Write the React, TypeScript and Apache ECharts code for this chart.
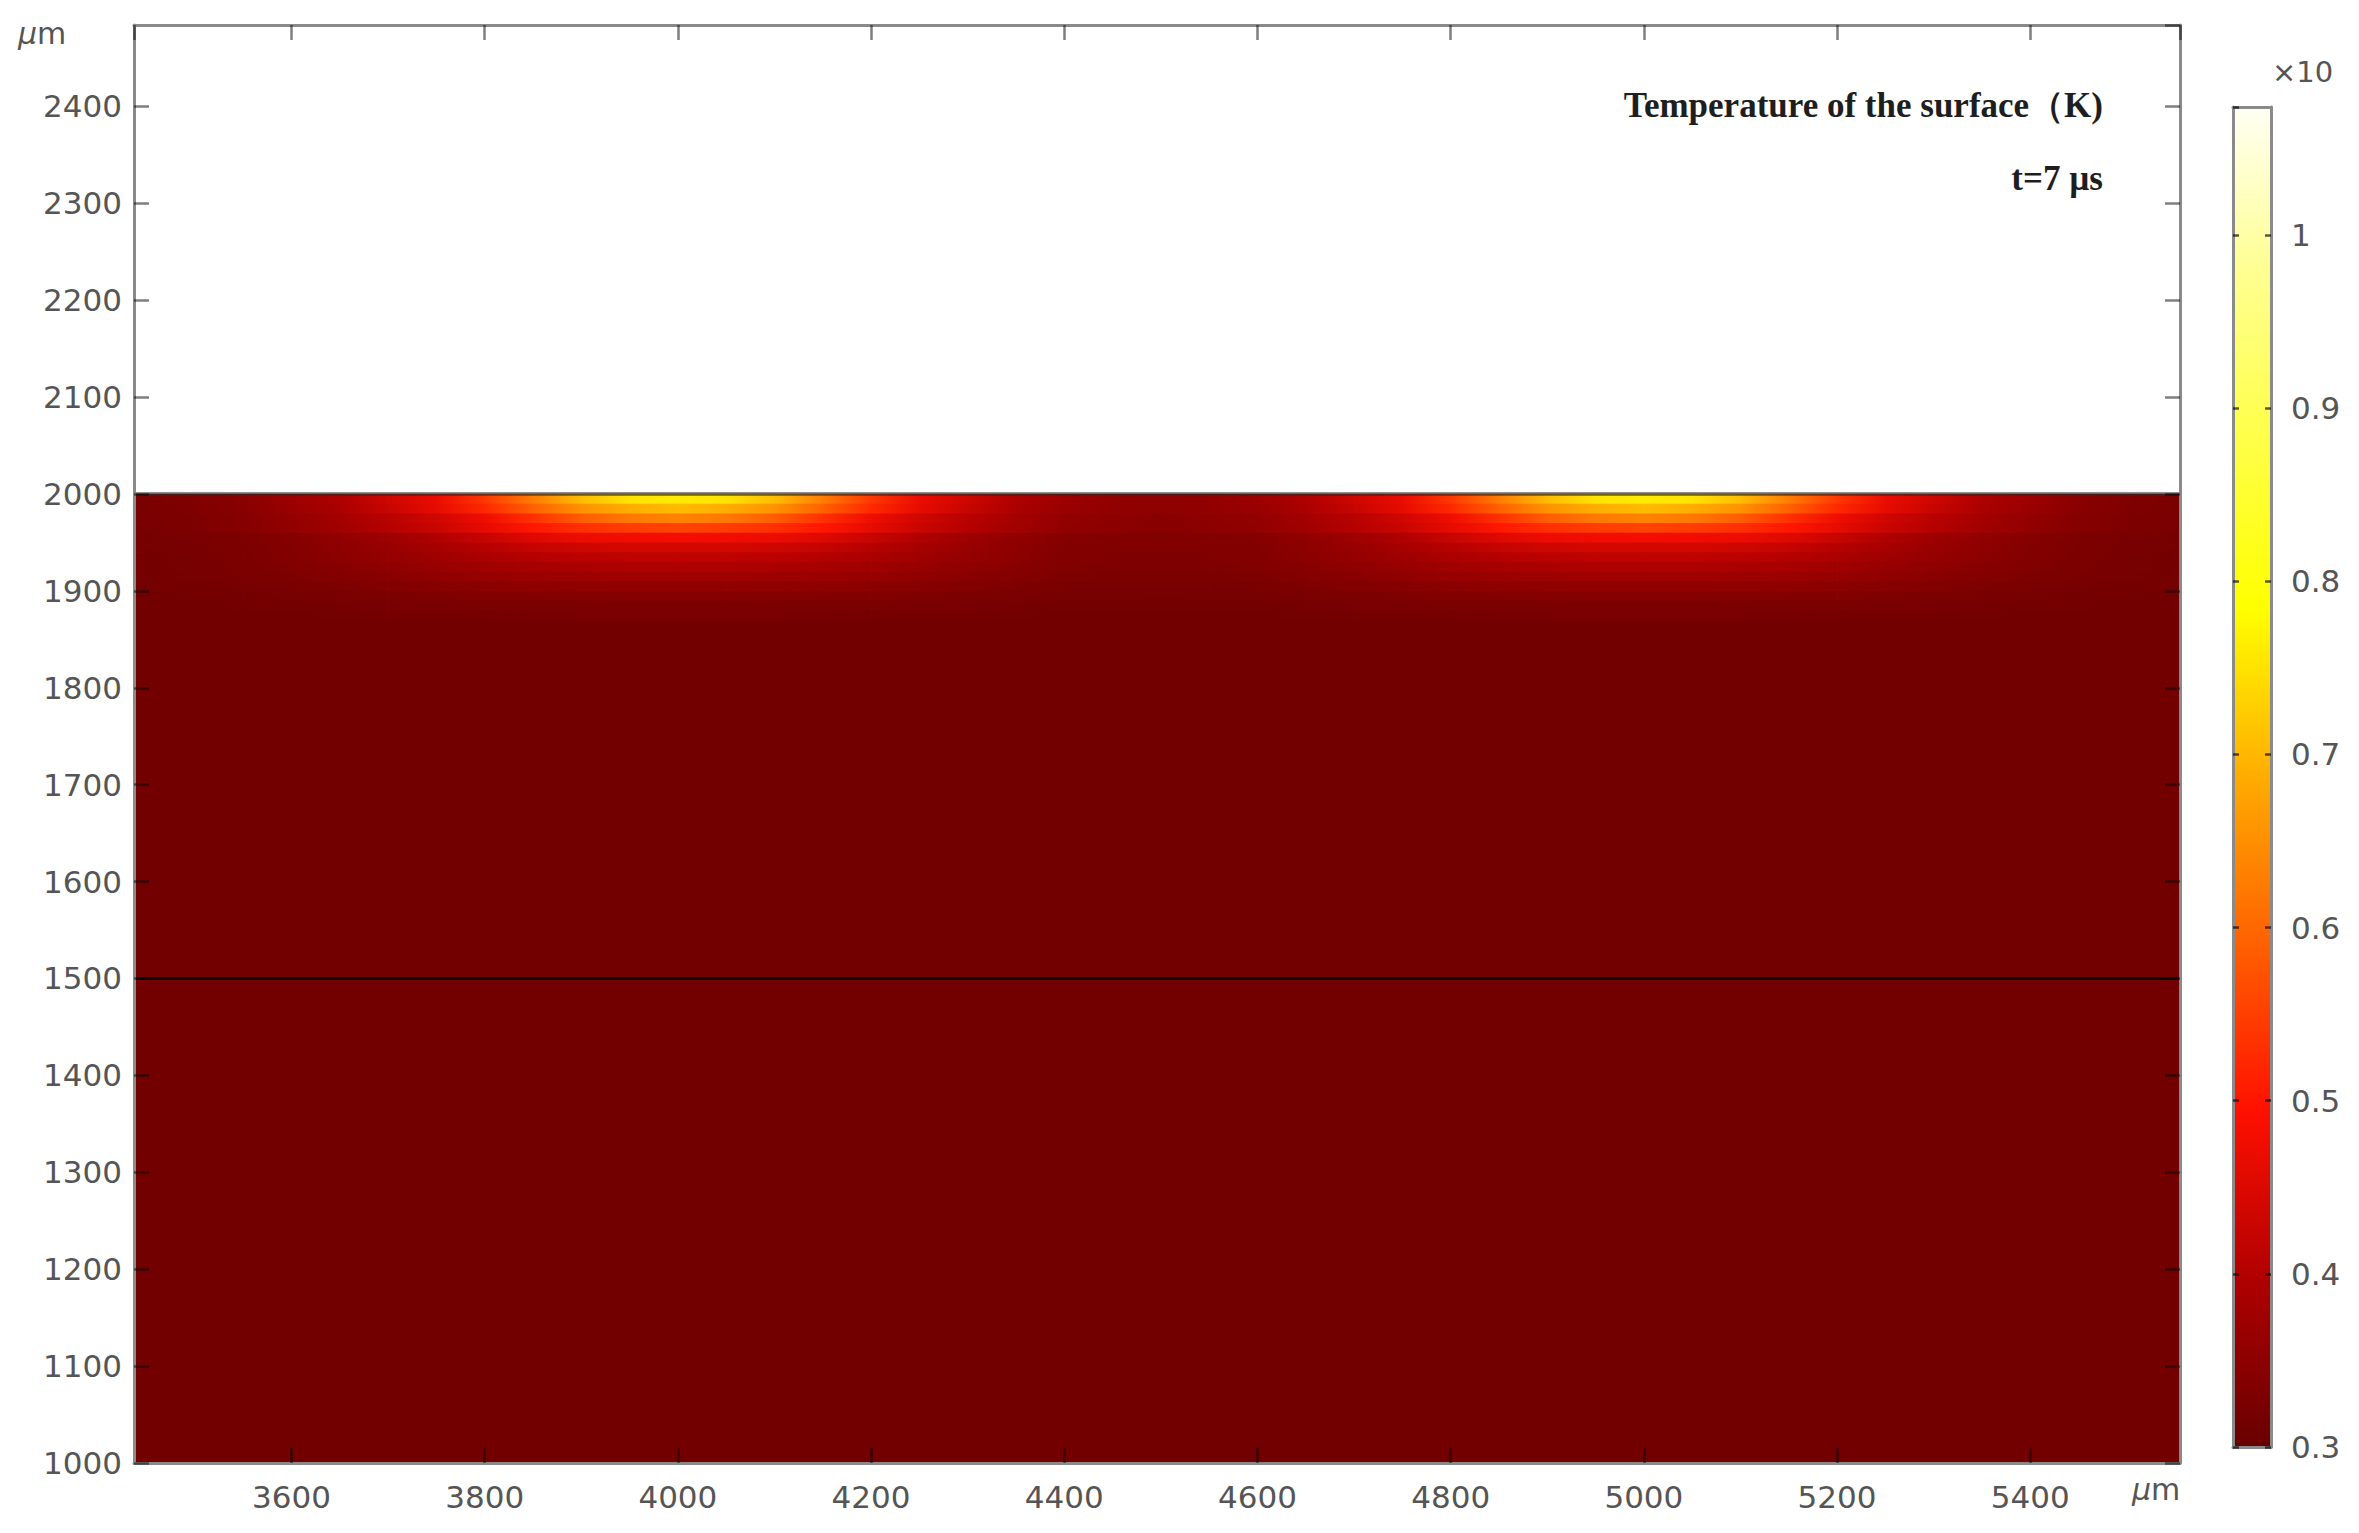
import React, { useEffect, useRef } from "react";
import * as echarts from "echarts";

// ---- axis extents (µm) ----
const X_MIN = 3437;
const X_MAX = 5555;
const Y_MIN = 1000;
const Y_MAX = 2484;

// ---- colour bar range (×10^4 K) ----
const C_MIN = 0.3;
const C_MAX = 1.074;

// ---- sampled temperature field (×10^4 K) ----
const xSamples = [
  3450, 3500, 3550, 3600, 3650, 3700, 3750, 3800, 3850, 3900, 3950, 4000, 4050, 4100, 4150,
  4200, 4250, 4300, 4350, 4400, 4450, 4500, 4550, 4600, 4650, 4700, 4750, 4800, 4850, 4900,
  4950, 5000, 5050, 5100, 5150, 5200, 5250, 5300, 5350, 5400, 5450, 5500, 5550,
];
const rowCentersY = [1995, 1985, 1975, 1965, 1955, 1945, 1935, 1925, 1915, 1905, 1895, 1885, 1875];
const ROW_HALF = 5;

const row1995 = [.325,.333,.344,.371,.393,.434,.469,.541,.626,.706,.751,.760,.751,.706,.626,.541,.469,.434,.393,.371,.356,.353,.356,.371,.393,.434,.469,.541,.626,.706,.751,.760,.751,.706,.626,.541,.469,.434,.393,.371,.344,.333,.325];
const row1985 = [.325,.332,.344,.367,.390,.425,.464,.522,.592,.654,.688,.705,.688,.654,.592,.522,.464,.425,.390,.367,.356,.351,.356,.367,.390,.425,.464,.522,.592,.654,.688,.705,.688,.654,.592,.522,.464,.425,.390,.367,.344,.332,.325];
const row1975 = [.323,.329,.340,.358,.381,.406,.435,.474,.532,.587,.622,.635,.622,.587,.532,.474,.435,.406,.381,.358,.350,.345,.350,.358,.381,.406,.435,.474,.532,.587,.622,.635,.622,.587,.532,.474,.435,.406,.381,.358,.340,.329,.323];
const row1965 = [.321,.329,.340,.357,.378,.403,.429,.463,.502,.531,.548,.555,.548,.531,.502,.463,.429,.403,.378,.357,.348,.345,.348,.357,.378,.403,.429,.463,.502,.531,.548,.555,.548,.531,.502,.463,.429,.403,.378,.357,.340,.329,.321];
const row1955 = [.319,.323,.330,.340,.355,.373,.397,.425,.453,.472,.478,.480,.478,.472,.453,.425,.397,.373,.355,.340,.336,.333,.336,.340,.355,.373,.397,.425,.453,.472,.478,.480,.478,.472,.453,.425,.397,.373,.355,.340,.330,.323,.319];
const row1945 = [.319,.323,.328,.338,.351,.366,.384,.404,.422,.434,.439,.440,.439,.434,.422,.404,.384,.366,.351,.338,.334,.333,.334,.338,.351,.366,.384,.404,.422,.434,.439,.440,.439,.434,.422,.404,.384,.366,.351,.338,.328,.323,.319];
const row1935 = [.318,.322,.327,.336,.348,.360,.374,.390,.402,.410,.414,.415,.414,.410,.402,.390,.374,.360,.348,.336,.332,.331,.332,.336,.348,.360,.374,.390,.402,.410,.414,.415,.414,.410,.402,.390,.374,.360,.348,.336,.327,.322,.318];
const row1925 = [.318,.321,.326,.334,.343,.354,.365,.377,.386,.392,.394,.395,.394,.392,.386,.377,.365,.354,.343,.334,.331,.329,.331,.334,.343,.354,.365,.377,.386,.392,.394,.395,.394,.392,.386,.377,.365,.354,.343,.334,.326,.321,.318];
const row1915 = [.317,.320,.324,.330,.337,.345,.354,.363,.369,.373,.374,.375,.374,.373,.369,.363,.354,.345,.337,.330,.328,.327,.328,.330,.337,.345,.354,.363,.369,.373,.374,.375,.374,.373,.369,.363,.354,.345,.337,.330,.324,.320,.317];
const row1905 = [.316,.318,.320,.324,.329,.335,.341,.347,.351,.353,.355,.355,.355,.353,.351,.347,.341,.335,.329,.324,.323,.323,.323,.324,.329,.335,.341,.347,.351,.353,.355,.355,.355,.353,.351,.347,.341,.335,.329,.324,.320,.318,.316];
const row1895 = [.315,.316,.318,.320,.324,.327,.331,.335,.337,.339,.340,.340,.340,.339,.337,.335,.331,.327,.324,.320,.320,.319,.320,.320,.324,.327,.331,.335,.337,.339,.340,.340,.340,.339,.337,.335,.331,.327,.324,.320,.318,.316,.315];
const row1885 = [.314,.315,.316,.317,.319,.321,.323,.325,.326,.327,.328,.328,.328,.327,.326,.325,.323,.321,.319,.317,.316,.316,.316,.317,.319,.321,.323,.325,.326,.327,.328,.328,.328,.327,.326,.325,.323,.321,.319,.317,.316,.315,.314];
const row1875 = [.313,.314,.314,.315,.316,.317,.318,.319,.320,.321,.321,.321,.321,.321,.320,.319,.318,.317,.316,.315,.314,.314,.314,.315,.316,.317,.318,.319,.320,.321,.321,.321,.321,.321,.320,.319,.318,.317,.316,.315,.314,.314,.313];
const fieldRows = [row1995, row1985, row1975, row1965, row1955, row1945, row1935, row1925, row1915, row1905, row1895, row1885, row1875];

const baseTemp = 0.313;
const deepTopY = 1870;
const surfaceY = 2000;
const interfaceY = 1500;

// ---- colour map (evenly spaced over C_MIN..C_MAX) ----
const thermalColors = [
  "#680000", "#b00000", "#ff1000", "#ff6000", "#ffac00",
  "#ffff00", "#ffff48", "#ffff90", "#fffff4",
];

function colorOf(v: number): string {
  let t = (v - C_MIN) / (C_MAX - C_MIN);
  t = Math.max(0, Math.min(1, t));
  return echarts.color.lerp(t, thermalColors) as string;
}

function buildSegments() {
  const segs: number[][] = [];
  segs.push([X_MIN, X_MAX, Y_MIN, deepTopY, baseTemp, baseTemp]);
  const n = xSamples.length;
  fieldRows.forEach((row, r) => {
    const yl = rowCentersY[r] - ROW_HALF;
    const yh = rowCentersY[r] + ROW_HALF;
    segs.push([X_MIN, xSamples[0], yl, yh, row[0], row[0]]);
    for (let j = 0; j < n - 1; j++) {
      segs.push([xSamples[j], xSamples[j + 1], yl, yh, row[j], row[j + 1]]);
    }
    segs.push([xSamples[n - 1], X_MAX, yl, yh, row[n - 1], row[n - 1]]);
  });
  return segs;
}

const FONT = "DejaVu Sans";
const LABEL_COLOR = "#555555";
const FRAME = "#8a8a8a";
const TICK = "rgba(0,0,0,0.5)";

export default function App() {
  const ref = useRef<HTMLDivElement>(null);

  useEffect(() => {
    if (!ref.current) return;
    const chart = echarts.init(ref.current, undefined, { renderer: "svg" });
    const segs = buildSegments();
    const plain = (v: number) => String(v);

    const mainAxisCommon = {
      type: "value" as const,
      gridIndex: 0,
      z: 10,
      splitLine: { show: false },
      axisLine: { show: true, onZero: false, lineStyle: { color: FRAME, width: 3 } },
      axisTick: { show: true, inside: true, length: 15, lineStyle: { color: TICK, width: 2.5 } },
    };

    const cbAxisCommon = {
      type: "value" as const,
      gridIndex: 1,
      z: 10,
      splitLine: { show: false },
      axisLine: { show: true, onZero: false, lineStyle: { color: FRAME, width: 3 } },
    };

    const muRich = {
      mu: { fontSize: 30, fontFamily: FONT, fontStyle: "italic", fill: LABEL_COLOR },
      m: { fontSize: 30, fontFamily: FONT, fill: LABEL_COLOR },
    };

    const option: any = {
      animation: false,
      backgroundColor: "#ffffff",
      grid: [
        { left: 134, top: 25, width: 2046, height: 1438 },
        { left: 2233, top: 107, width: 38, height: 1340 },
      ],
      xAxis: [
        {
          ...mainAxisCommon,
          position: "bottom",
          min: X_MIN,
          max: X_MAX,
          splitNumber: 10,
          axisLabel: {
            show: true, fontSize: 31, fontFamily: FONT, color: LABEL_COLOR, margin: 18,
            showMinLabel: false, showMaxLabel: false, formatter: plain,
          },
        },
        {
          ...mainAxisCommon,
          position: "top",
          min: X_MIN,
          max: X_MAX,
          splitNumber: 10,
          axisLabel: { show: false },
        },
        {
          ...cbAxisCommon, position: "bottom", min: 0, max: 1,
          axisTick: { show: false }, axisLabel: { show: false },
        },
        {
          ...cbAxisCommon, position: "top", min: 0, max: 1,
          axisTick: { show: false }, axisLabel: { show: false },
        },
      ],
      yAxis: [
        {
          ...mainAxisCommon,
          position: "left",
          min: Y_MIN,
          max: Y_MAX,
          interval: 100,
          axisLabel: {
            show: true, fontSize: 31, fontFamily: FONT, color: LABEL_COLOR, margin: 12,
            showMaxLabel: false, formatter: plain,
          },
        },
        {
          ...mainAxisCommon,
          position: "right",
          min: Y_MIN,
          max: Y_MAX,
          interval: 100,
          axisLabel: { show: false },
        },
        {
          ...cbAxisCommon,
          position: "right",
          min: C_MIN,
          max: C_MAX,
          interval: 0.1,
          axisTick: { show: true, inside: true, length: 6, lineStyle: { color: "rgba(0,0,0,0.65)", width: 2.5 } },
          axisLabel: {
            show: true, fontSize: 31, fontFamily: FONT, color: LABEL_COLOR, margin: 20,
            showMaxLabel: false,
            formatter: (v: number) => String(Math.round(v * 10) / 10),
          },
        },
        {
          ...cbAxisCommon,
          position: "left",
          min: C_MIN,
          max: C_MAX,
          interval: 0.1,
          axisTick: { show: true, inside: true, length: 6, lineStyle: { color: "rgba(0,0,0,0.65)", width: 2.5 } },
          axisLabel: { show: false },
        },
      ],
      series: [
        {
          type: "custom",
          name: "temperature",
          xAxisIndex: 0,
          yAxisIndex: 0,
          z: 1,
          silent: true,
          encode: { x: [0, 1], y: [2, 3] },
          data: segs,
          renderItem: (params: any, api: any) => {
            const x0 = api.value(0);
            const x1 = api.value(1);
            const yl = api.value(2);
            const yh = api.value(3);
            const v0 = api.value(4);
            const v1 = api.value(5);
            const p0 = api.coord([x0, yh]);
            const p1 = api.coord([x1, yl]);
            return {
              type: "rect",
              shape: {
                x: p0[0],
                y: p0[1],
                width: p1[0] - p0[0] + 0.8,
                height: p1[1] - p0[1] + 0.8,
              },
              style: {
                fill: new echarts.graphic.LinearGradient(0, 0, 1, 0, [
                  { offset: 0, color: colorOf(v0) },
                  { offset: 1, color: colorOf(v1) },
                ]),
                stroke: null,
              },
            };
          },
        },
        {
          type: "line",
          name: "surface",
          xAxisIndex: 0,
          yAxisIndex: 0,
          z: 3,
          silent: true,
          symbol: "none",
          data: [[X_MIN, surfaceY], [X_MAX, surfaceY]],
          lineStyle: { color: "rgba(45,40,35,0.7)", width: 3.5 },
        },
        {
          type: "line",
          name: "interface",
          xAxisIndex: 0,
          yAxisIndex: 0,
          z: 3,
          silent: true,
          symbol: "none",
          data: [[X_MIN, interfaceY], [X_MAX, interfaceY]],
          lineStyle: { color: "#0a0000", width: 2.5 },
        },
        {
          type: "custom",
          name: "colorbar",
          xAxisIndex: 2,
          yAxisIndex: 2,
          z: 1,
          silent: true,
          encode: { x: [0, 1], y: [2, 3] },
          data: [[0, 1, C_MIN, C_MAX]],
          renderItem: (params: any, api: any) => {
            const p0 = api.coord([api.value(0), api.value(3)]);
            const p1 = api.coord([api.value(1), api.value(2)]);
            const stops = thermalColors.map((c, i) => ({
              offset: i / (thermalColors.length - 1),
              color: c,
            }));
            return {
              type: "rect",
              shape: { x: p0[0], y: p0[1], width: p1[0] - p0[0], height: p1[1] - p0[1] },
              style: {
                fill: new echarts.graphic.LinearGradient(0, 1, 0, 0, stops),
                stroke: null,
              },
            };
          },
        },
      ],
      graphic: [
        {
          type: "text",
          left: 18,
          top: 18,
          style: { text: "{mu|µ}{m|m}", rich: muRich },
        },
        {
          type: "text",
          left: 2132,
          top: 1474,
          style: { text: "{mu|µ}{m|m}", rich: muRich },
        },
        {
          type: "text",
          left: 2272,
          top: 57,
          style: {
            text: "×10",
            fontSize: 29,
            fontFamily: FONT,
            fill: LABEL_COLOR,
          },
        },
        {
          type: "text",
          x: 2103,
          y: 105,
          style: {
            text: "Temperature of the surface（K)",
            fontSize: 35,
            fontWeight: "bold",
            fontFamily: "Liberation Serif",
            fill: "#1e1e1e",
            align: "right",
            verticalAlign: "middle",
          },
        },
        {
          type: "text",
          x: 2103,
          y: 178,
          style: {
            text: "t=7 µs",
            fontSize: 35,
            fontWeight: "bold",
            fontFamily: "Liberation Serif",
            fill: "#1e1e1e",
            align: "right",
            verticalAlign: "middle",
          },
        },
      ],
    };

    chart.setOption(option);
    return () => {
      chart.dispose();
    };
  }, []);

  return (
    <div
      ref={ref}
      style={{
        position: "fixed",
        left: 0,
        top: 0,
        width: 2359,
        height: 1533,
        background: "#ffffff",
      }}
    />
  );
}
